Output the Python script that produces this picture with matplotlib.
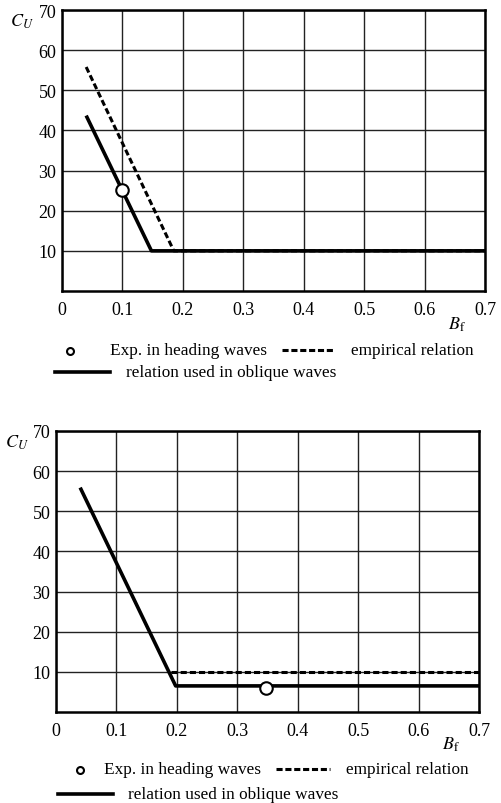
import matplotlib
matplotlib.use("Agg")
import matplotlib.pyplot as plt
from matplotlib.lines import Line2D

plt.rcParams['font.family'] = ['Liberation Serif', 'DejaVu Serif']
plt.rcParams['mathtext.fontset'] = 'stix'

# ---- data ----
x_ticks = [0, 0.1, 0.2, 0.3, 0.4, 0.5, 0.6, 0.7]
x_ticklabels = ["0", "0.1", "0.2", "0.3", "0.4", "0.5", "0.6", "0.7"]
y_ticks = [10, 20, 30, 40, 50, 60, 70]

# top panel
top_solid_x = [0.04, 0.148, 0.7]
top_solid_y = [43.7, 10.0, 10.0]
top_dash_x = [0.04, 0.185, 0.7]
top_dash_y = [55.8, 10.0, 10.0]
top_exp_x = [0.1]
top_exp_y = [25.2]

# bottom panel
bot_solid_x = [0.04, 0.198, 0.7]
bot_solid_y = [55.9, 6.5, 6.5]
bot_dash_x = [0.19, 0.7]
bot_dash_y = [10.0, 10.0]
bot_exp_x = [0.348]
bot_exp_y = [6.1]

W, H = 502, 804
fig = plt.figure(figsize=(W / 100, H / 100), dpi=100)


def px_axes(l, t, r, b):
    return fig.add_axes([l / W, 1 - b / H, (r - l) / W, (b - t) / H])


def style(ax):
    ax.set_xlim(0, 0.7)
    ax.set_ylim(0, 70)
    ax.set_xticks(x_ticks)
    ax.set_xticklabels(x_ticklabels)
    ax.set_yticks(y_ticks)
    ax.grid(True, color='#222222', linewidth=1.0)
    ax.tick_params(length=0, labelsize=13)
    ax.tick_params(axis='x', pad=7)
    ax.tick_params(axis='y', pad=4)
    for s in ax.spines.values():
        s.set_linewidth(1.8)
        s.set_color('black')
    ax.set_axisbelow(True)


def panel(ax, sx, sy, dx, dy, ex, ey):
    style(ax)
    ax.plot(dx, dy, color='black', linewidth=2.2, linestyle=(0, (2.0, 1.0)), zorder=3)
    ax.plot(sx, sy, color='black', linewidth=2.6, solid_capstyle='butt', zorder=4)
    ax.plot(ex, ey, 'o', markersize=9, markerfacecolor='white',
            markeredgecolor='black', markeredgewidth=1.5, zorder=5)


ax1 = px_axes(62, 11, 485, 292)
panel(ax1, top_solid_x, top_solid_y, top_dash_x, top_dash_y, top_exp_x, top_exp_y)
ax2 = px_axes(56, 432, 479, 713)
panel(ax2, bot_solid_x, bot_solid_y, bot_dash_x, bot_dash_y, bot_exp_x, bot_exp_y)


def ftext(x, y, s, **kw):
    fig.text(x / W, 1 - y / H, s, **kw)


def fline(x0, x1, y, **kw):
    fig.add_artist(Line2D([x0 / W, x1 / W], [1 - y / H, 1 - y / H], transform=fig.transFigure, **kw))


def fmark(x, y):
    fig.add_artist(Line2D([x / W], [1 - y / H], transform=fig.transFigure, marker='o',
                          markersize=5, markerfacecolor='white', markeredgecolor='black',
                          markeredgewidth=1.5, linestyle='none'))


# axis labels
ftext(22, 22, r'$C_U$', fontsize=13, ha='center', va='center')
ftext(457, 325, r'$B_{\mathrm{f}}$', fontsize=13, ha='center', va='center')
ftext(17, 443, r'$C_U$', fontsize=13, ha='center', va='center')
ftext(451, 745, r'$B_{\mathrm{f}}$', fontsize=13, ha='center', va='center')

# legends
fs = 12.4
fmark(70, 352)
ftext(110, 351, 'Exp. in heading waves', fontsize=fs, va='center')
fline(282, 335, 351, color='black', linewidth=2.2, linestyle=(0, (2.0, 0.9)))
ftext(351, 351, 'empirical relation', fontsize=fs, va='center')
fline(55, 110, 373, color='black', linewidth=2.6)
ftext(126, 373, 'relation used in oblique waves', fontsize=fs, va='center')

fmark(80, 771)
ftext(104, 770, 'Exp. in heading waves', fontsize=fs, va='center')
fline(276, 330, 770, color='black', linewidth=2.2, linestyle=(0, (2.0, 0.9)))
ftext(346, 770, 'empirical relation', fontsize=fs, va='center')
fline(58, 113, 795, color='black', linewidth=2.6)
ftext(128, 795, 'relation used in oblique waves', fontsize=fs, va='center')

fig.savefig('out.png', dpi=100, facecolor='white')
